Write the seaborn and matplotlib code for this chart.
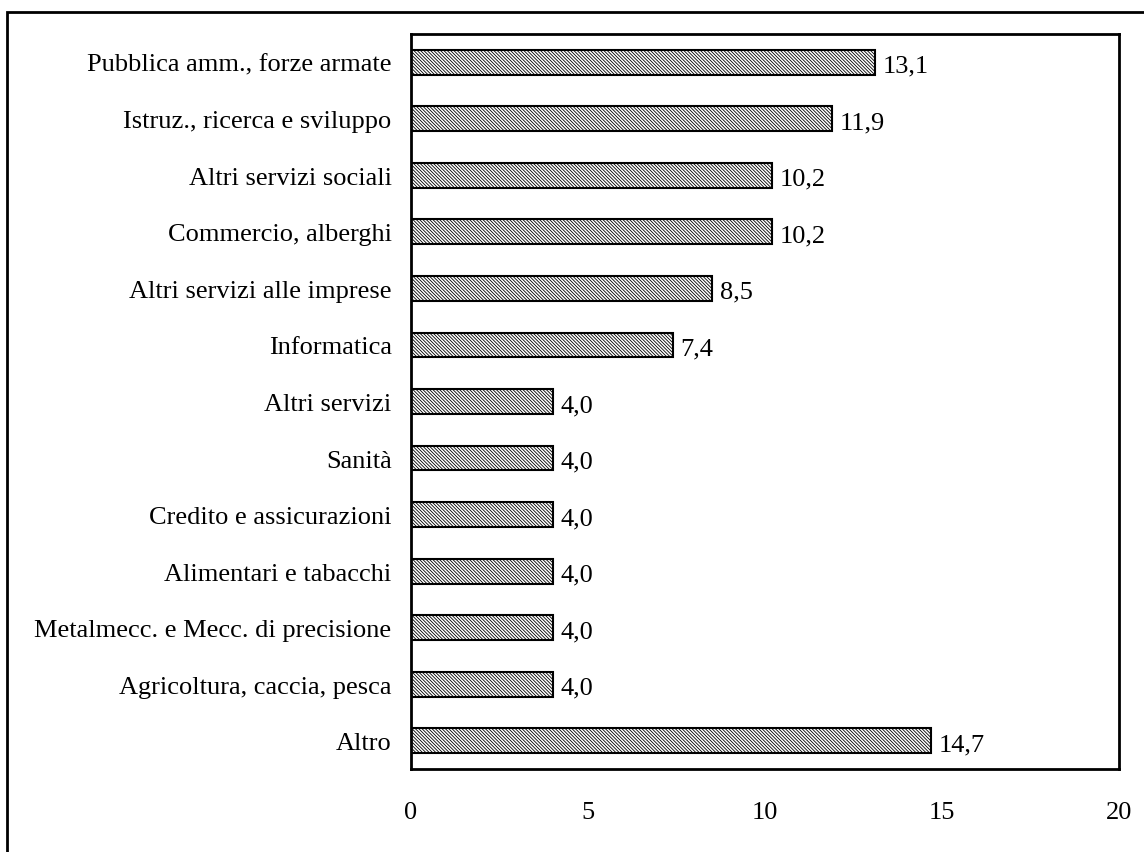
import matplotlib
matplotlib.use("Agg")
import matplotlib.pyplot as plt
import seaborn as sns
import pandas as pd
from matplotlib.patches import Rectangle

categories = [
    "Pubblica amm., forze armate",
    "Istruz., ricerca e sviluppo",
    "Altri servizi sociali",
    "Commercio, alberghi",
    "Altri servizi alle imprese",
    "Informatica",
    "Altri servizi",
    "Sanità",
    "Credito e assicurazioni",
    "Alimentari e tabacchi",
    "Metalmecc. e Mecc. di precisione",
    "Agricoltura, caccia, pesca",
    "Altro",
]
values = [13.1, 11.9, 10.2, 10.2, 8.5, 7.4, 4.0, 4.0, 4.0, 4.0, 4.0, 4.0, 14.7]
x_ticks = [0, 5, 10, 15, 20]

df = pd.DataFrame({"settore": categories, "valore": values})

sns.set_theme(style="white")
plt.rcParams["font.family"] = ["Liberation Serif", "DejaVu Serif"]
plt.rcParams["hatch.linewidth"] = 0.6
plt.rcParams["text.color"] = "black"
plt.rcParams["xtick.color"] = "black"
plt.rcParams["ytick.color"] = "black"

FS = 19

fig = plt.figure(figsize=(11.44, 8.53), dpi=100)
ax = fig.add_axes([0.3593, 0.0973, 0.6189, 0.8617])

sns.barplot(data=df, y="settore", x="valore", orient="h", color="white",
            width=0.44, edgecolor="black", linewidth=1.5, ax=ax)
for bar in ax.patches:
    bar.set_hatch("\\" * 10)
    bar.set_facecolor("white")

labels = ax.bar_label(ax.containers[0],
                      labels=[f"{v:.1f}".replace(".", ",") for v in values],
                      padding=5, fontsize=FS, color="black")
for t in labels:
    t.xyann = (5.5, -2.5)

ax.set_xlim(0, 20)
ax.set_ylim(len(categories) - 0.5, -0.5)
ax.set_xticks(x_ticks)
ax.set_xticklabels([str(t) for t in x_ticks], fontsize=FS)
ax.tick_params(axis="x", length=0, pad=23, labelcolor="black")
ax.tick_params(axis="y", length=0, pad=14, labelsize=FS, labelcolor="black")
ax.set_xlabel("")
ax.set_ylabel("")
for s in ax.spines.values():
    s.set_visible(True)
    s.set_color("black")
    s.set_linewidth(2)

# outer frame around the figure
fig.patches.append(Rectangle((7 / 1144, -0.1), 1.2, 1 - 13 / 853 + 0.1,
                             transform=fig.transFigure, fill=False,
                             edgecolor="black", linewidth=2))

fig.savefig("out.png", dpi=100)
